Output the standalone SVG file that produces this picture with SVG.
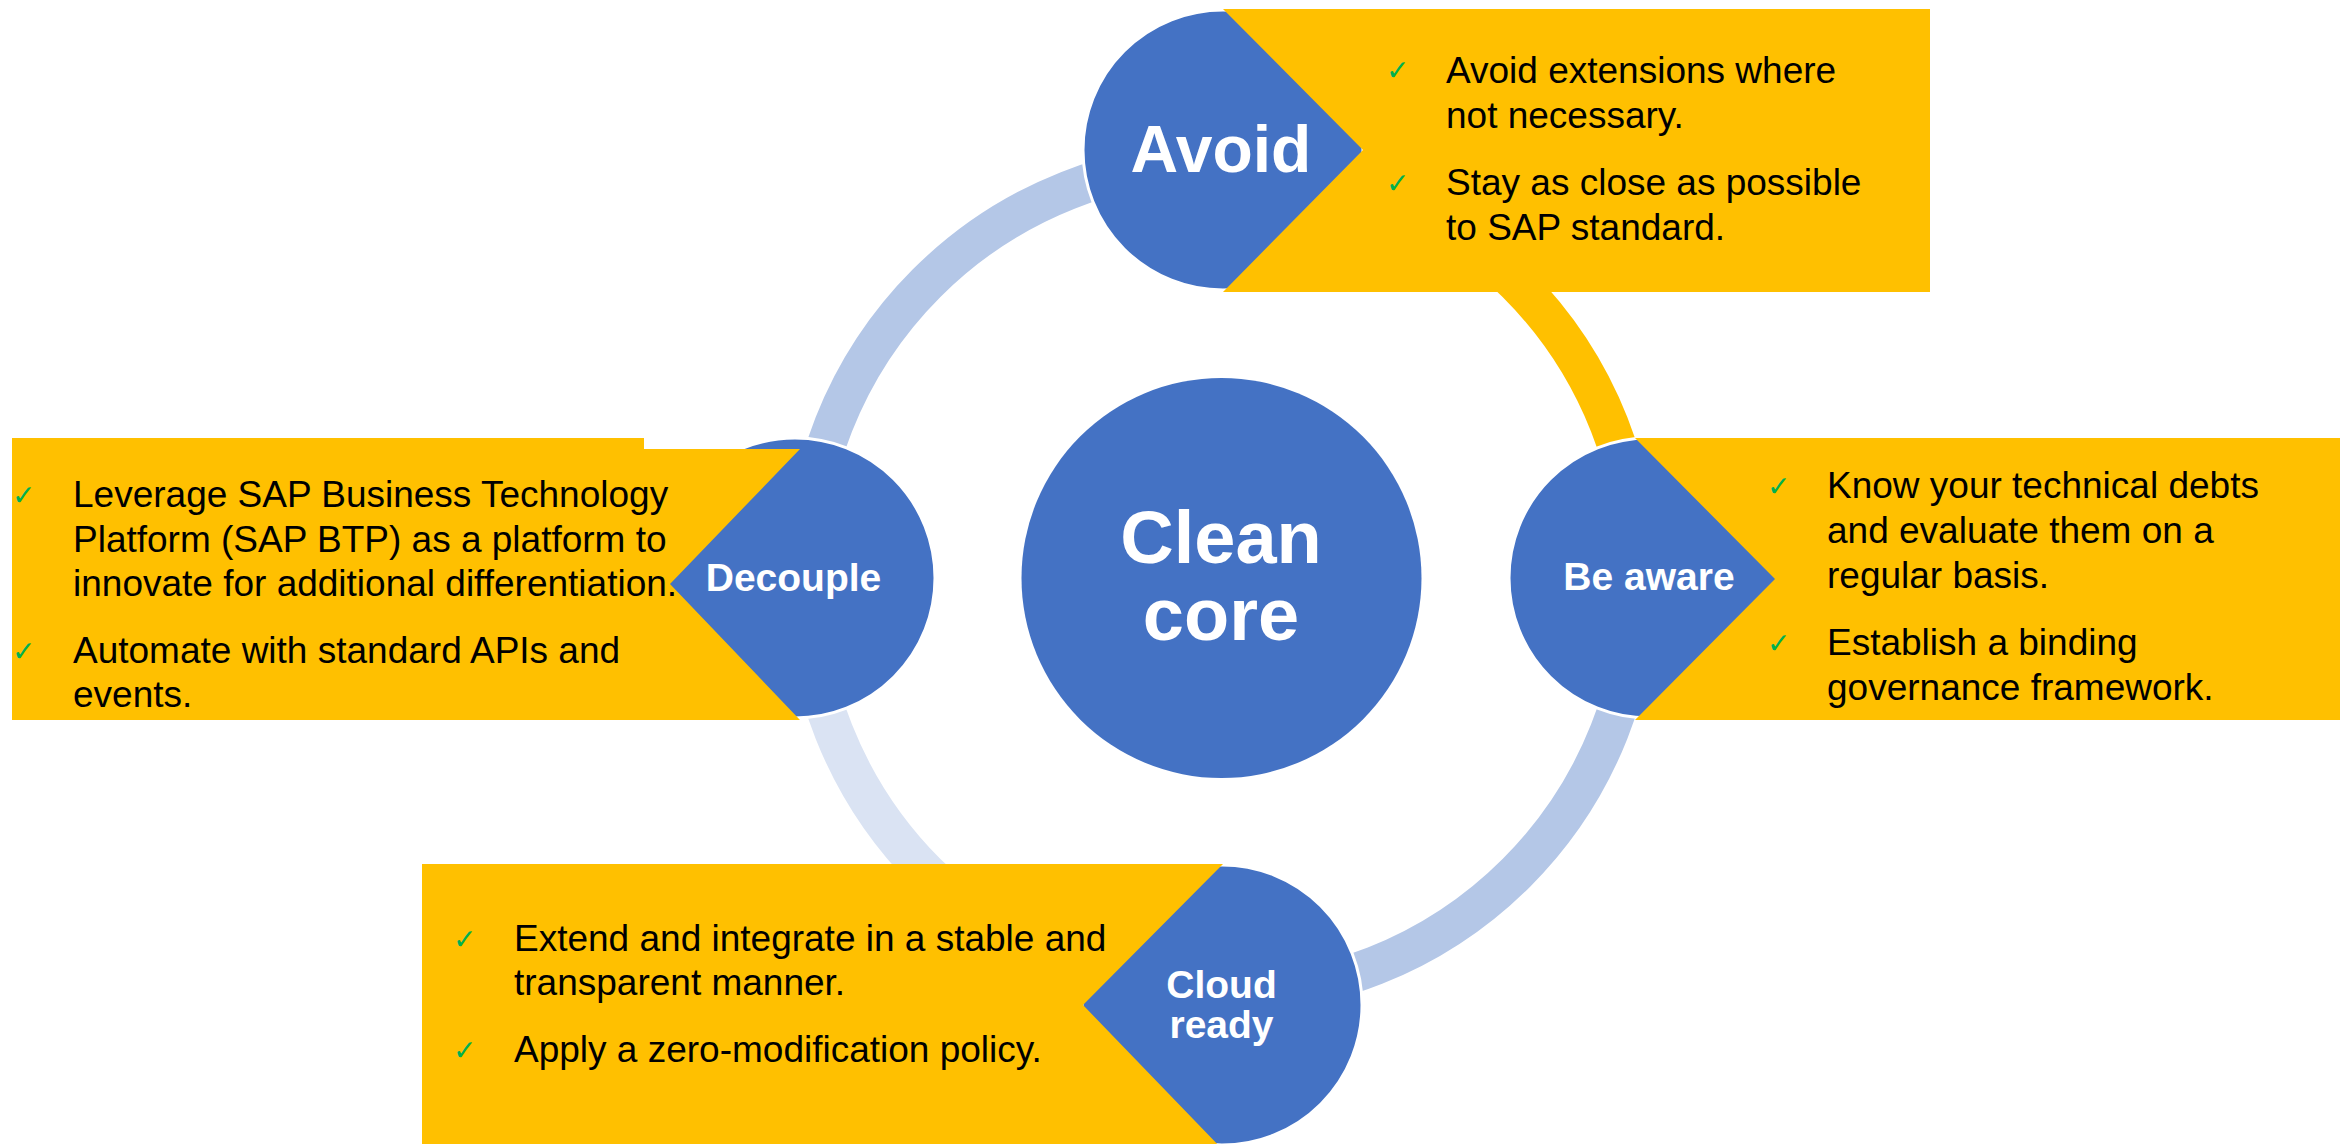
<svg xmlns="http://www.w3.org/2000/svg" width="2346" height="1144" viewBox="0 0 2346 1144">
<style>
.arc{fill:none;stroke-width:39}
.node{fill:#4472c4;stroke:#ffffff;stroke-width:3}
.box{fill:#ffc000}
.lbl{font-family:"Liberation Sans",Arial,sans-serif;font-weight:bold;fill:#ffffff;text-anchor:middle}
.txt{font-family:"Liberation Sans",Arial,sans-serif;font-size:37px;fill:#000000}
.chk{font-family:"DejaVu Sans",sans-serif;font-size:28px;font-weight:bold;fill:#00b050}
</style>
<rect width="2346" height="1144" fill="#ffffff"/>
<g id="connectors">
<path class="arc" stroke="#b4c7e7" d="M 804.5 578 A 417 417 0 0 1 1221.5 161"/>
<path class="arc" stroke="#ffc000" d="M 1221.5 161 A 417 417 0 0 1 1638.5 578"/>
<path class="arc" stroke="#b4c7e7" d="M 1638.5 578 A 417 417 0 0 1 1221.5 995"/>
<path class="arc" stroke="#dae3f3" d="M 1221.5 995 A 417 417 0 0 1 804.5 578"/>
</g>
<g id="clean-core">
<circle cx="1221.5" cy="578" r="200" fill="#4472c4"/>
<text class="lbl" font-size="74" x="1221" y="563">Clean</text>
<text class="lbl" font-size="74" x="1221" y="640">core</text>
</g>
<g id="avoid">
<circle class="node" cx="1223" cy="150" r="140"/>
<polygon class="box" points="1223,9 1930,9 1930,292 1223,292 1363,150"/>
<text class="lbl" font-size="66" x="1221" y="172">Avoid</text>
<text class="chk" x="1386" y="80">✓</text>
<text class="txt" x="1446" y="83">Avoid extensions where</text>
<text class="txt" x="1446" y="128">not necessary.</text>
<text class="chk" x="1386" y="193">✓</text>
<text class="txt" x="1446" y="195">Stay as close as possible</text>
<text class="txt" x="1446" y="240">to SAP standard.</text>
</g>
<g id="be-aware">
<circle class="node" cx="1649" cy="578" r="140"/>
<polygon class="box" points="1635,438 2340,438 2340,720 1635,720 1775,579"/>
<text class="lbl" font-size="39" x="1649" y="590">Be aware</text>
<text class="chk" x="1767" y="496">✓</text>
<text class="txt" x="1827" y="498">Know your technical debts</text>
<text class="txt" x="1827" y="543">and evaluate them on a</text>
<text class="txt" x="1827" y="588">regular basis.</text>
<text class="chk" x="1767" y="653">✓</text>
<text class="txt" x="1827" y="655">Establish a binding</text>
<text class="txt" x="1827" y="700">governance framework.</text>
</g>
<g id="cloud-ready">
<circle class="node" cx="1222" cy="1005" r="140"/>
<polygon class="box" points="422,864 1223,864 1083,1005 1223,1150 422,1150"/>
<text class="lbl" font-size="39" x="1221.5" y="998">Cloud</text>
<text class="lbl" font-size="39" x="1221.5" y="1038">ready</text>
<text class="chk" x="453" y="949">✓</text>
<text class="txt" x="514" y="951">Extend and integrate in a stable and</text>
<text class="txt" x="514" y="995">transparent manner.</text>
<text class="chk" x="453" y="1060">✓</text>
<text class="txt" x="514" y="1062">Apply a zero-modification policy.</text>
</g>
<g id="decouple">
<circle class="node" cx="795" cy="578" r="140"/>
<polygon class="box" points="12,438 644,438 644,449 800,449 670,584 800,720 12,720"/>
<text class="lbl" font-size="39" x="793.5" y="591">Decouple</text>
<text class="chk" x="12" y="505">✓</text>
<text class="txt" x="73" y="507">Leverage SAP Business Technology</text>
<text class="txt" x="73" y="552">Platform (SAP BTP) as a platform to</text>
<text class="txt" x="73" y="596">innovate for additional differentiation.</text>
<text class="chk" x="12" y="661">✓</text>
<text class="txt" x="73" y="663">Automate with standard APIs and</text>
<text class="txt" x="73" y="707">events.</text>
</g>
</svg>
